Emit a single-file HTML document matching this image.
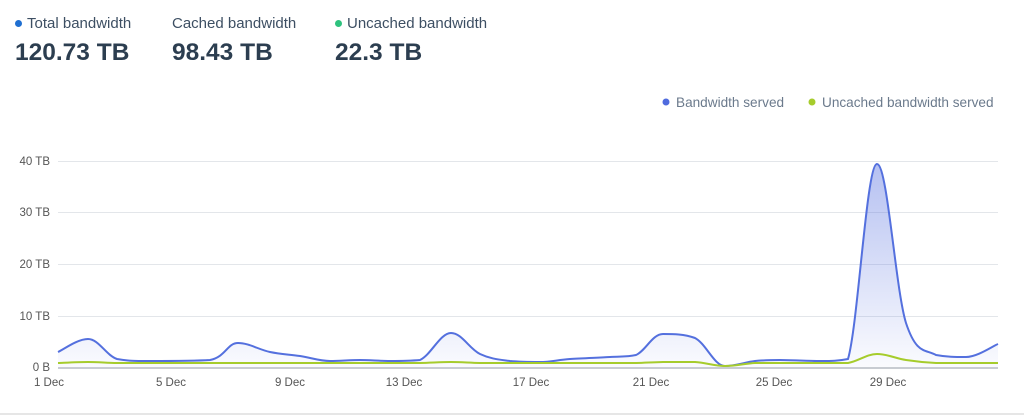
<!DOCTYPE html>
<html><head><meta charset="utf-8"><style>
body{margin:0;width:1024px;height:419px;background:#fff;font-family:"Liberation Sans",sans-serif;overflow:hidden;position:relative}
.s{position:absolute;top:15px}
.s .l{font-size:15px;color:#3d4f63;height:18px;line-height:18px}
.s .v{font-size:24.5px;font-weight:bold;color:#2c3e50;margin-top:6px}
.d{display:inline-block;width:7px;height:7px;border-radius:50%;margin-right:5px;vertical-align:1px}
</style></head><body>
<div class="s" style="left:15px"><div class="l"><span class="d" style="background:#1f6fd1"></span>Total bandwidth</div><div class="v">120.73 TB</div></div>
<div class="s" style="left:172px"><div class="l">Cached bandwidth</div><div class="v">98.43 TB</div></div>
<div class="s" style="left:335px"><div class="l"><span class="d" style="background:#2ec27e"></span>Uncached bandwidth</div><div class="v">22.3 TB</div></div>
<svg width="1024" height="419" style="position:absolute;left:0;top:0" font-family="Liberation Sans,sans-serif">
<defs><linearGradient id="g" x1="0" y1="0" x2="0" y2="1"><stop offset="0" stop-color="#5b74e0" stop-opacity="0.45"/><stop offset="1" stop-color="#5b74e0" stop-opacity="0.03"/></linearGradient></defs>
<g font-size="13.6" fill="#6b7a8c">
<circle cx="666" cy="102" r="3.5" fill="#4f6bde"/><text x="676" y="107">Bandwidth served</text>
<circle cx="812" cy="102" r="3.5" fill="#a6cc2c"/><text x="822" y="107">Uncached bandwidth served</text>
</g>
<g stroke="#e3e6ea" stroke-width="1">
<line x1="58" x2="998" y1="161.5" y2="161.5"/><line x1="58" x2="998" y1="212.5" y2="212.5"/><line x1="58" x2="998" y1="264.5" y2="264.5"/><line x1="58" x2="998" y1="316.5" y2="316.5"/>
</g>
<line x1="58" x2="998" y1="368" y2="368" stroke="#c8ccd2" stroke-width="2"/>
<line x1="0" x2="1024" y1="414" y2="414" stroke="#e6e6e6" stroke-width="2"/>
<g font-size="11.5" fill="#555" text-anchor="end">
<text x="50" y="165">40 TB</text><text x="50" y="216">30 TB</text><text x="50" y="268">20 TB</text><text x="50" y="320">10 TB</text><text x="50" y="371">0 B</text>
</g>
<g font-size="11.5" fill="#555" text-anchor="middle">
<text x="49" y="386">1 Dec</text><text x="171" y="386">5 Dec</text><text x="290" y="386">9 Dec</text><text x="404" y="386">13 Dec</text><text x="531" y="386">17 Dec</text><text x="651" y="386">21 Dec</text><text x="774" y="386">25 Dec</text><text x="888" y="386">29 Dec</text>
</g>
<path id="fa" fill="url(#g)"/>
<path id="b" fill="none" stroke="#5470de" stroke-width="2"/>
<path id="gr" fill="none" stroke="#a6cc2c" stroke-width="2"/>
</svg>
<script>
var B=[[58,352],[88,339],[117,359],[150,361],[210,360],[238,343],[270,352],[300,356],[330,361],[360,360],[390,361],[420,360],[451,333],[480,354],[510,361],[540,362],[570,359],[610,357],[636,355],[663,334],[695,338],[725,366],[755,361],[780,360],[820,361],[848,359],[877,164],[906,323],[936,355],[966,357],[998,344]];
var G=B.map(function(p){var y=363;if(p[0]==877)y=354;if(p[0]==906)y=360;if(p[0]==451)y=362;if(p[0]==663||p[0]==695)y=362;if(p[0]==725)y=366;if(p[0]==88)y=362;return [p[0],y]});
function cl(v,a,b){return Math.max(Math.min(v,Math.max(a,b)),Math.min(a,b));}
function path(P){var d="M"+P[0][0]+","+P[0][1];for(var i=0;i<P.length-1;i++){var p0=P[i-1]||P[i],p1=P[i],p2=P[i+1],p3=P[i+2]||p2;var t=0.18;
var c1=[p1[0]+(p2[0]-p0[0])*t,cl(p1[1]+(p2[1]-p0[1])*t,p1[1],p2[1])],c2=[p2[0]-(p3[0]-p1[0])*t,cl(p2[1]-(p3[1]-p1[1])*t,p1[1],p2[1])];
if((p1[1]-p0[1])*(p2[1]-p1[1])<0)c1[1]=p1[1];if((p2[1]-p1[1])*(p3[1]-p2[1])<0)c2[1]=p2[1];
d+=" C"+c1+" "+c2+" "+p2;}return d;}
var pb=path(B);document.getElementById('b').setAttribute('d',pb);
document.getElementById('fa').setAttribute('d',pb+" L998,367 L58,367 Z");
document.getElementById('gr').setAttribute('d',path(G));
</script>
</body></html>
